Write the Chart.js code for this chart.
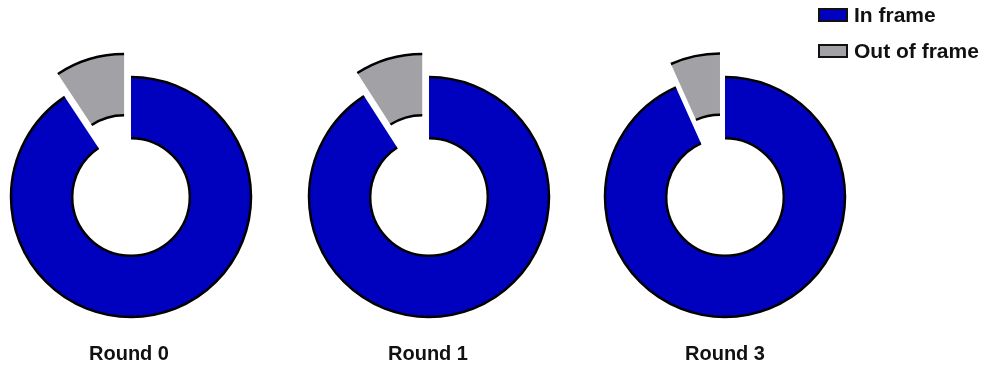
<!DOCTYPE html>
<html>
<head>
<meta charset="utf-8">
<script src="https://cdn.jsdelivr.net/npm/chart.js@4.4.1/dist/chart.umd.min.js"></script>
<style>
  body { margin: 0; background: #fff; width: 987px; height: 366px; position: relative; overflow: hidden;
         font-family: "Liberation Sans", Arial, sans-serif; font-weight: bold; color: #111; }
  .pie { position: absolute; width: 300px; height: 300px; }
  .round { position: absolute; top: 340px; width: 200px; text-align: center; font-size: 20px; line-height: 26px; }
  .legend { position: absolute; left: 818px; top: -3px; font-size: 21px; line-height: 36px; white-space: nowrap; }
  .legend .box { display: inline-block; width: 26px; height: 10px; border: 2px solid #111; margin-right: 6px; vertical-align: 0px; }
</style>
</head>
<body>
<canvas id="c0" class="pie" style="left:-19px;top:47px"></canvas>
<canvas id="c1" class="pie" style="left:279px;top:47px"></canvas>
<canvas id="c2" class="pie" style="left:575px;top:47px"></canvas>
<div class="round" style="left:29px">Round 0</div>
<div class="round" style="left:328px">Round 1</div>
<div class="round" style="left:625px">Round 3</div>
<div class="legend" id="legend"></div>
<script>
// Datos de cada ronda (porcentaje)
const categories = ["In frame", "Out of frame"];
const rounds = ["Round 0", "Round 1", "Round 3"];
const inFrame = [90.7, 90.9, 93.3];
const outFrame = [9.3, 9.1, 6.7];

const colors = ["#0000bf", "#a2a2a6"];
const EXPLODE = 24; // desplazamiento del sector "Out of frame"

// Leyenda
const legend = document.getElementById("legend");
categories.forEach(function (name, i) {
    const row = document.createElement("div");
    const box = document.createElement("span");
    box.className = "box";
    box.style.background = colors[i];
    row.appendChild(box);
    row.appendChild(document.createTextNode(name));
    legend.appendChild(row);
});

// Desplaza el sector y dibuja solo los bordes curvos (exterior e interior)
const rimPlugin = {
    id: "rim",
    beforeDatasetsDraw(chart) {
        const meta = chart.getDatasetMeta(0);
        meta.data.forEach(function (arc, i) {
            const d = chart.data.datasets[0].explode[i] || 0;
            const mid = (arc.startAngle + arc.endAngle) / 2;
            arc._dx = Math.cos(mid) * d;
            arc._dy = Math.sin(mid) * d;
            arc.x += arc._dx;
            arc.y += arc._dy;
        });
    },
    afterDatasetsDraw(chart) {
        const ctx = chart.ctx;
        const meta = chart.getDatasetMeta(0);
        ctx.save();
        ctx.strokeStyle = "#000";
        ctx.lineWidth = 2.5;
        meta.data.forEach(function (arc) {
            ctx.beginPath();
            ctx.arc(arc.x, arc.y, arc.outerRadius, arc.startAngle, arc.endAngle);
            ctx.stroke();
            ctx.beginPath();
            ctx.arc(arc.x, arc.y, arc.innerRadius, arc.startAngle, arc.endAngle);
            ctx.stroke();
            arc.x -= arc._dx;
            arc.y -= arc._dy;
        });
        ctx.restore();
    }
};

// Dibujar un gráfico de anillo por ronda
rounds.forEach(function (label, r) {
    new Chart(document.getElementById("c" + r), {
        type: "doughnut",
        data: {
            labels: categories,
            datasets: [{
                data: [inFrame[r], outFrame[r]],
                backgroundColor: colors,
                borderWidth: 0,
                explode: [0, EXPLODE],
                clip: false
            }]
        },
        options: {
            responsive: false,
            animation: false,
            cutout: "49%",
            rotation: 0,
            layout: { padding: 30 },
            plugins: {
                legend: { display: false },
                tooltip: { enabled: false }
            },
            events: []
        },
        plugins: [rimPlugin]
    });
});
</script>
</body>
</html>
